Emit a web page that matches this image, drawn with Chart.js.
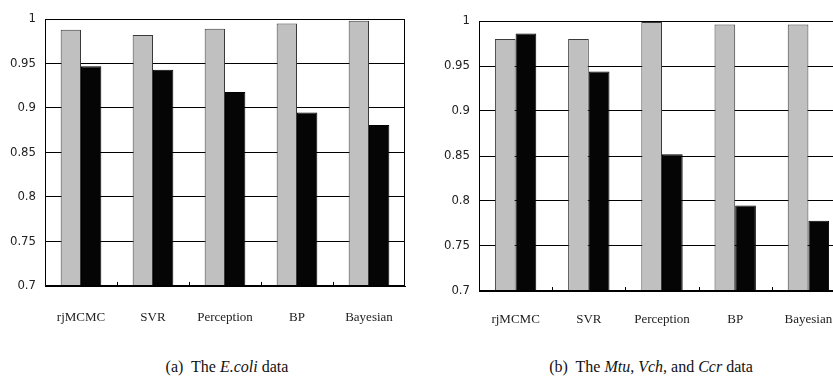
<!DOCTYPE html>
<html>
<head>
<meta charset="utf-8">
<script src="https://cdn.jsdelivr.net/npm/chart.js@4.4.1/dist/chart.umd.min.js"></script>
<style>
  html, body { margin: 0; padding: 0; background: #fff; overflow: hidden; width: 833px; height: 376px; }
  #wrap { position: relative; width: 833px; height: 376px; overflow: hidden; }
  canvas { position: absolute; top: 0; }
  #c1 { left: 0; }
  #c2 { left: 413px; }
  .cap { position: absolute; top: 359px; font-family: 'Liberation Serif', 'Times New Roman', serif; font-size: 16px; line-height: 16px; color: #111; white-space: nowrap; transform: translateX(-50%); }
</style>
</head>
<body>
<div id="wrap">
  <canvas id="c1" width="413" height="330"></canvas>
  <canvas id="c2" width="445" height="330"></canvas>
  <div class="cap" style="left:227px">(a)&nbsp; The <i>E.coli</i> data</div>
  <div class="cap" style="left:651px">(b)&nbsp; The <i>Mtu</i>, <i>Vch</i>, and <i>Ccr</i> data</div>
</div>
<script>
const categories = ['rjMCMC', 'SVR', 'Perception', 'BP', 'Bayesian'];
const yTickLabels = ['0.7', '0.75', '0.8', '0.85', '0.9', '0.95', '1'];

// (a) E.coli data
const ecoliGray  = [0.988, 0.982, 0.989, 0.995, 0.998];
const ecoliBlack = [0.947, 0.943, 0.918, 0.895, 0.881];

// (b) Mtu, Vch, Ccr data
const mvcGray  = [0.980, 0.980, 0.999, 0.996, 0.996];
const mvcBlack = [0.986, 0.944, 0.852, 0.795, 0.778];

const framePlugin = {
  id: 'frame',
  afterDatasetsDraw(chart) {
    const { ctx, chartArea: a, scales: { x } } = chart;
    ctx.save();
    ctx.strokeStyle = '#000';
    ctx.lineWidth = 1;
    ctx.strokeRect(Math.round(a.left) + 0.5, Math.round(a.top) + 0.5,
                   Math.round(a.right - a.left) - 1, Math.round(a.bottom - a.top) - 1);
    ctx.beginPath();
    for (let i = 1; i < categories.length; i++) {
      const px = Math.round((x.getPixelForValue(i - 1) + x.getPixelForValue(i)) / 2) + 0.5;
      ctx.moveTo(px, a.bottom);
      ctx.lineTo(px, a.bottom - 4);
    }
    ctx.stroke();
    ctx.restore();
  }
};

function makeChart(id, gray, black, yWidth, pad, xHeight, xPad) {
  return new Chart(document.getElementById(id), {
    type: 'bar',
    data: {
      labels: categories,
      datasets: [
        { data: gray, backgroundColor: '#c0c0c0', borderColor: '#3a3a3a', borderWidth: 1,
          barPercentage: 1, categoryPercentage: 0.565 },
        { data: black, backgroundColor: '#050505', borderColor: '#000', borderWidth: 1,
          barPercentage: 1, categoryPercentage: 0.565 }
      ]
    },
    options: {
      responsive: false,
      animation: false,
      devicePixelRatio: 1,
      layout: { padding: pad },
      plugins: { legend: { display: false }, tooltip: { enabled: false } },
      scales: {
        x: {
          grid: { display: false },
          border: { display: true, color: '#000' },
          ticks: {
            padding: xPad,
            color: '#222',
            font: { family: "'Liberation Serif', 'Times New Roman', serif", size: 13 },
            maxRotation: 0, autoSkip: false
          },
          afterFit(s) { s.height = xHeight; }
        },
        y: {
          min: 0.7, max: 1,
          grid: { color: '#000', lineWidth: 1, drawTicks: false },
          border: { display: true, color: '#000' },
          ticks: {
            stepSize: 0.05,
            padding: 9,
            color: '#222',
            font: { family: "'Liberation Sans Narrow', 'DejaVu Sans Condensed', sans-serif", size: 13 },
            callback: (v, i) => yTickLabels[i]
          },
          afterFit(s) { s.width = yWidth; }
        }
      }
    },
    plugins: [framePlugin]
  });
}

makeChart('c1', ecoliGray, ecoliBlack, 45, { top: 19, right: 8, left: 0, bottom: 0 }, 44, 16);
makeChart('c2', mvcGray, mvcBlack, 66, { top: 21, right: 13, left: 0, bottom: 0 }, 39, 13);
</script>
</body>
</html>
